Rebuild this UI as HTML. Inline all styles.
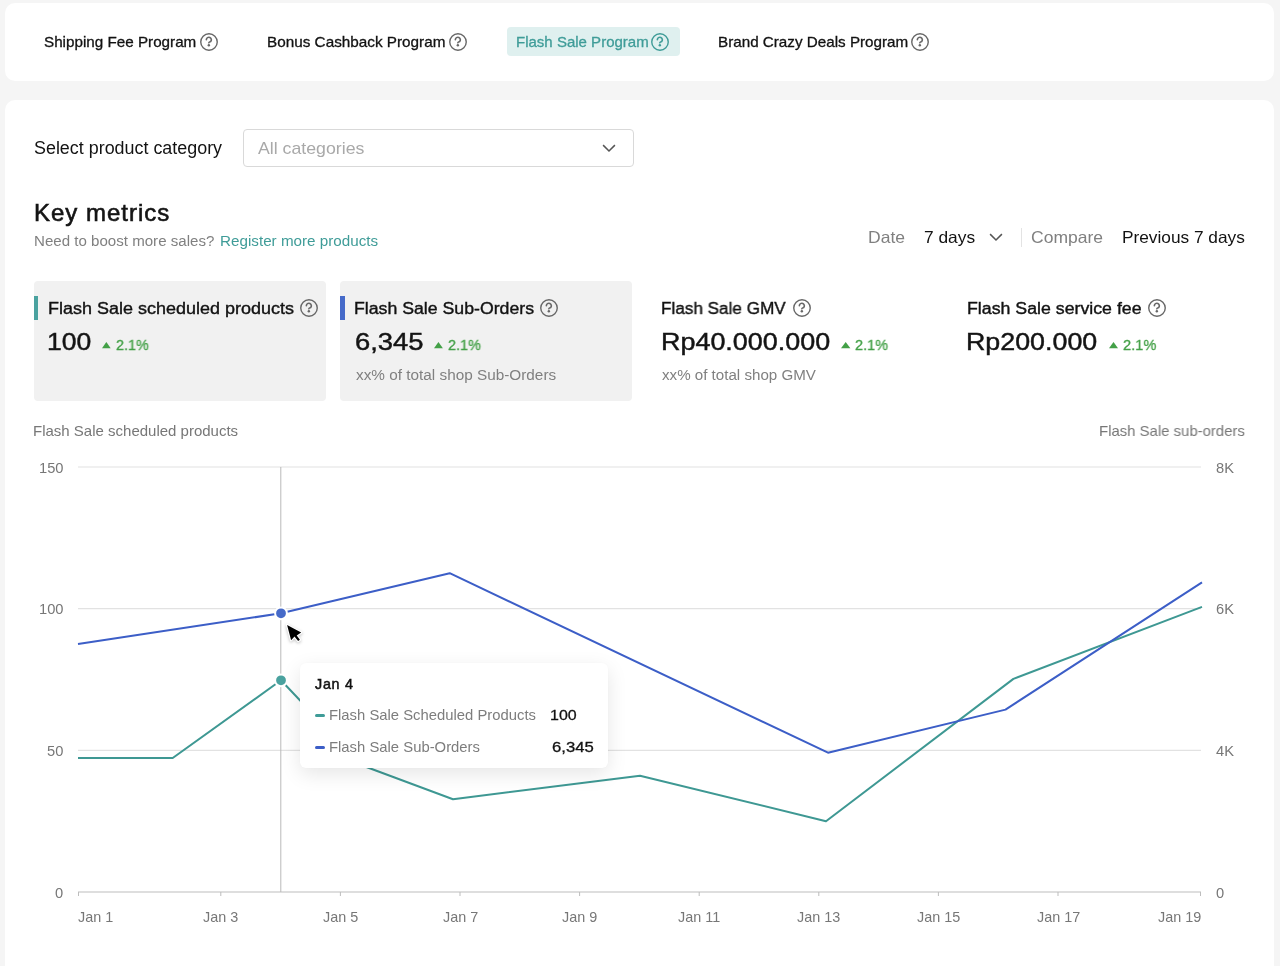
<!DOCTYPE html>
<html><head><meta charset="utf-8"><style>
html,body{margin:0;padding:0}
body{width:1280px;height:966px;overflow:hidden;background:#f5f5f5;position:relative;font-family:"Liberation Sans",Arial,sans-serif}
.card{position:absolute;background:#fff;border-radius:10px}
.t{position:absolute;white-space:nowrap;line-height:1;transform-origin:0 0;will-change:transform}
.ic{position:absolute;overflow:visible}
.mc{position:absolute;top:281px;height:119.5px;background:#f1f1f1;border-radius:4px}
.mc i{position:absolute;left:0;top:14.5px;width:4.3px;height:24.5px}
</style></head><body>
<div class="card" style="left:5px;top:2.5px;width:1269px;height:78px"></div>
<div class="card" style="left:5px;top:99.5px;width:1269px;height:900px"></div>
<div class="t" style="left:44.11px;top:35px;font-size:14.8px;color:#121212;-webkit-text-stroke:0.3px #121212;transform:scaleX(1.0285);">Shipping Fee Program</div>
<svg class="ic" style="left:199.60px;top:32.70px" width="18.00" height="18.00" viewBox="0 0 18 18"><circle cx="9" cy="9" r="8.25" fill="none" stroke="#686868" stroke-width="1.4"/><path d="M6.35 6.7A2.5 2.5 0 1 1 10.6 8.55Q8.85 9.25 8.85 9.85" fill="none" stroke="#686868" stroke-width="1.65" stroke-linecap="round"/><circle cx="8.85" cy="12.3" r="1.2" fill="#686868"/></svg>
<div class="t" style="left:266.95px;top:35px;font-size:14.8px;color:#121212;-webkit-text-stroke:0.3px #121212;transform:scaleX(1.0331);">Bonus Cashback Program</div>
<svg class="ic" style="left:448.50px;top:32.70px" width="18.00" height="18.00" viewBox="0 0 18 18"><circle cx="9" cy="9" r="8.25" fill="none" stroke="#686868" stroke-width="1.4"/><path d="M6.35 6.7A2.5 2.5 0 1 1 10.6 8.55Q8.85 9.25 8.85 9.85" fill="none" stroke="#686868" stroke-width="1.65" stroke-linecap="round"/><circle cx="8.85" cy="12.3" r="1.2" fill="#686868"/></svg>
<div style="position:absolute;left:506.5px;top:27px;width:173.5px;height:29px;background:#dff0ef;border-radius:4px"></div>
<div class="t" style="left:515.77px;top:35px;font-size:14.8px;color:#3f9c98;-webkit-text-stroke:0.3px #3f9c98;transform:scaleX(1.0148);">Flash Sale Program</div>
<svg class="ic" style="left:651.40px;top:32.70px" width="18.00" height="18.00" viewBox="0 0 18 18"><circle cx="9" cy="9" r="8.25" fill="none" stroke="#3f9c98" stroke-width="1.4"/><path d="M6.35 6.7A2.5 2.5 0 1 1 10.6 8.55Q8.85 9.25 8.85 9.85" fill="none" stroke="#3f9c98" stroke-width="1.65" stroke-linecap="round"/><circle cx="8.85" cy="12.3" r="1.2" fill="#3f9c98"/></svg>
<div class="t" style="left:718.15px;top:35px;font-size:14.8px;color:#121212;-webkit-text-stroke:0.3px #121212;transform:scaleX(1.0280);">Brand Crazy Deals Program</div>
<svg class="ic" style="left:911.30px;top:32.70px" width="18.00" height="18.00" viewBox="0 0 18 18"><circle cx="9" cy="9" r="8.25" fill="none" stroke="#686868" stroke-width="1.4"/><path d="M6.35 6.7A2.5 2.5 0 1 1 10.6 8.55Q8.85 9.25 8.85 9.85" fill="none" stroke="#686868" stroke-width="1.65" stroke-linecap="round"/><circle cx="8.85" cy="12.3" r="1.2" fill="#686868"/></svg>
<div class="t" style="left:33.89px;top:140px;font-size:17.5px;color:#121212;transform:scaleX(1.0228);">Select product category</div>
<div style="position:absolute;left:242.5px;top:128.5px;width:391px;height:38.5px;box-sizing:border-box;border:1px solid #d9d9d9;border-radius:4px;background:#fff"></div>
<div class="t" style="left:257.87px;top:140px;font-size:17.0px;color:#a9a9a9;transform:scaleX(1.0424);">All categories</div>
<svg class="ic" style="left:601.80px;top:142.80px" width="14" height="10" viewBox="0 0 14 10"><path d="M1.1 2.1l5.9 5.9 5.9-5.9" fill="none" stroke="#555" stroke-width="1.5"/></svg>
<div class="t" style="left:33.63px;top:201px;font-size:24.0px;color:#141414;-webkit-text-stroke:0.6px #141414;letter-spacing:0.998px;">Key metrics</div>
<div class="t" style="left:33.66px;top:234px;font-size:14.7px;color:#808080;transform:scaleX(1.0274);">Need to boost more sales?</div>
<div class="t" style="left:220.05px;top:234px;font-size:14.7px;color:#3f9c98;transform:scaleX(1.0361);">Register more products</div>
<div class="t" style="left:867.56px;top:229px;font-size:16.5px;color:#808080;transform:scaleX(1.0621);">Date</div>
<div class="t" style="left:924.41px;top:229px;font-size:16.5px;color:#121212;transform:scaleX(1.0515);">7 days</div>
<svg class="ic" style="left:989.00px;top:232.00px" width="14" height="10" viewBox="0 0 14 10"><path d="M1.1 2.1l5.9 5.9 5.9-5.9" fill="none" stroke="#555" stroke-width="1.5"/></svg>
<div style="position:absolute;left:1020.5px;top:227.5px;width:1px;height:19px;background:#e3e3e3"></div>
<div class="t" style="left:1030.71px;top:229px;font-size:16.5px;color:#808080;transform:scaleX(1.0620);">Compare</div>
<div class="t" style="left:1121.78px;top:229px;font-size:16.5px;color:#121212;transform:scaleX(1.0464);">Previous 7 days</div>
<div class="mc" style="left:34px;width:291.8px"><i style="background:#4aa29f"></i></div>
<div class="mc" style="left:340.3px;width:291.5px"><i style="background:#466ac9"></i></div>
<div class="t" style="left:48.02px;top:300px;font-size:17.3px;color:#121212;-webkit-text-stroke:0.4px #121212;transform:scaleX(1.0404);">Flash Sale scheduled products</div>
<svg class="ic" style="left:299.80px;top:298.80px" width="18.00" height="18.00" viewBox="0 0 18 18"><circle cx="9" cy="9" r="8.25" fill="none" stroke="#686868" stroke-width="1.4"/><path d="M6.35 6.7A2.5 2.5 0 1 1 10.6 8.55Q8.85 9.25 8.85 9.85" fill="none" stroke="#686868" stroke-width="1.65" stroke-linecap="round"/><circle cx="8.85" cy="12.3" r="1.2" fill="#686868"/></svg>
<div class="t" style="left:354.45px;top:300px;font-size:17.3px;color:#121212;-webkit-text-stroke:0.4px #121212;transform:scaleX(1.0241);">Flash Sale Sub-Orders</div>
<svg class="ic" style="left:540.20px;top:298.80px" width="18.00" height="18.00" viewBox="0 0 18 18"><circle cx="9" cy="9" r="8.25" fill="none" stroke="#686868" stroke-width="1.4"/><path d="M6.35 6.7A2.5 2.5 0 1 1 10.6 8.55Q8.85 9.25 8.85 9.85" fill="none" stroke="#686868" stroke-width="1.65" stroke-linecap="round"/><circle cx="8.85" cy="12.3" r="1.2" fill="#686868"/></svg>
<div class="t" style="left:660.79px;top:300px;font-size:17.3px;color:#121212;-webkit-text-stroke:0.4px #121212;transform:scaleX(0.9907);">Flash Sale GMV</div>
<svg class="ic" style="left:793.10px;top:298.80px" width="18.00" height="18.00" viewBox="0 0 18 18"><circle cx="9" cy="9" r="8.25" fill="none" stroke="#686868" stroke-width="1.4"/><path d="M6.35 6.7A2.5 2.5 0 1 1 10.6 8.55Q8.85 9.25 8.85 9.85" fill="none" stroke="#686868" stroke-width="1.65" stroke-linecap="round"/><circle cx="8.85" cy="12.3" r="1.2" fill="#686868"/></svg>
<div class="t" style="left:967.04px;top:300px;font-size:17.3px;color:#121212;-webkit-text-stroke:0.4px #121212;transform:scaleX(1.0267);">Flash Sale service fee</div>
<svg class="ic" style="left:1148.30px;top:298.80px" width="18.00" height="18.00" viewBox="0 0 18 18"><circle cx="9" cy="9" r="8.25" fill="none" stroke="#686868" stroke-width="1.4"/><path d="M6.35 6.7A2.5 2.5 0 1 1 10.6 8.55Q8.85 9.25 8.85 9.85" fill="none" stroke="#686868" stroke-width="1.65" stroke-linecap="round"/><circle cx="8.85" cy="12.3" r="1.2" fill="#686868"/></svg>
<div class="t" style="left:47.08px;top:330px;font-size:24px;color:#141414;-webkit-text-stroke:0.45px #141414;transform:scaleX(1.1052);">100</div>
<div class="t" style="left:354.61px;top:330px;font-size:24px;color:#141414;-webkit-text-stroke:0.45px #141414;transform:scaleX(1.1412);">6,345</div>
<div class="t" style="left:660.69px;top:330px;font-size:24px;color:#141414;-webkit-text-stroke:0.45px #141414;transform:scaleX(1.1218);">Rp40.000.000</div>
<div class="t" style="left:966.30px;top:330px;font-size:24px;color:#141414;-webkit-text-stroke:0.45px #141414;transform:scaleX(1.1176);">Rp200.000</div>
<svg class="ic" style="left:101.90px;top:342px" width="8.70" height="6.3" viewBox="0 0 10 7" preserveAspectRatio="none"><path d="M5 0L10 7H0z" fill="#43a047"/></svg>
<svg class="ic" style="left:433.70px;top:342px" width="8.90" height="6.3" viewBox="0 0 10 7" preserveAspectRatio="none"><path d="M5 0L10 7H0z" fill="#43a047"/></svg>
<svg class="ic" style="left:841.00px;top:342px" width="9.40" height="6.3" viewBox="0 0 10 7" preserveAspectRatio="none"><path d="M5 0L10 7H0z" fill="#43a047"/></svg>
<svg class="ic" style="left:1108.50px;top:342px" width="9.00" height="6.3" viewBox="0 0 10 7" preserveAspectRatio="none"><path d="M5 0L10 7H0z" fill="#43a047"/></svg>
<div class="t" style="left:116.08px;top:338px;font-size:14.7px;color:#43a047;-webkit-text-stroke:0.3px #43a047;transform:scaleX(0.9770);">2.1%</div>
<div class="t" style="left:447.78px;top:338px;font-size:14.7px;color:#43a047;-webkit-text-stroke:0.3px #43a047;transform:scaleX(0.9801);">2.1%</div>
<div class="t" style="left:855.47px;top:338px;font-size:14.7px;color:#43a047;-webkit-text-stroke:0.3px #43a047;transform:scaleX(0.9832);">2.1%</div>
<div class="t" style="left:1122.77px;top:338px;font-size:14.7px;color:#43a047;-webkit-text-stroke:0.3px #43a047;transform:scaleX(0.9925);">2.1%</div>
<div class="t" style="left:355.83px;top:368px;font-size:14.7px;color:#808080;transform:scaleX(1.0433);">xx% of total shop Sub-Orders</div>
<div class="t" style="left:662.03px;top:368px;font-size:14.7px;color:#808080;transform:scaleX(1.0303);">xx% of total shop GMV</div>
<div class="t" style="left:33.02px;top:423px;font-size:15.0px;color:#777777;">Flash Sale scheduled products</div>
<div class="t" style="left:1099.18px;top:423px;font-size:15.0px;color:#777777;transform:scaleX(0.9941);">Flash Sale sub-orders</div>
<svg class="ic" style="left:0;top:0" width="1280" height="966" viewBox="0 0 1280 966"><line x1="78" y1="467.0" x2="1201" y2="467.0" stroke="#e2e2e2" stroke-width="1.1"/><line x1="78" y1="608.67" x2="1201" y2="608.67" stroke="#e2e2e2" stroke-width="1.1"/><line x1="78" y1="750.33" x2="1201" y2="750.33" stroke="#e2e2e2" stroke-width="1.1"/><line x1="78" y1="892.0" x2="1201" y2="892.0" stroke="#bdbdbd" stroke-width="1"/><line x1="78.5" y1="892.0" x2="78.5" y2="896.0" stroke="#bdbdbd" stroke-width="1"/><line x1="220.8" y1="892.0" x2="220.8" y2="896.0" stroke="#bdbdbd" stroke-width="1"/><line x1="340.4" y1="892.0" x2="340.4" y2="896.0" stroke="#bdbdbd" stroke-width="1"/><line x1="460.0" y1="892.0" x2="460.0" y2="896.0" stroke="#bdbdbd" stroke-width="1"/><line x1="579.6" y1="892.0" x2="579.6" y2="896.0" stroke="#bdbdbd" stroke-width="1"/><line x1="699.2" y1="892.0" x2="699.2" y2="896.0" stroke="#bdbdbd" stroke-width="1"/><line x1="818.8" y1="892.0" x2="818.8" y2="896.0" stroke="#bdbdbd" stroke-width="1"/><line x1="938.4" y1="892.0" x2="938.4" y2="896.0" stroke="#bdbdbd" stroke-width="1"/><line x1="1058.0" y1="892.0" x2="1058.0" y2="896.0" stroke="#bdbdbd" stroke-width="1"/><line x1="1200.5" y1="892.0" x2="1200.5" y2="896.0" stroke="#bdbdbd" stroke-width="1"/><line x1="280.8" y1="467" x2="280.8" y2="892" stroke="#b9b9b9" stroke-width="1"/><polyline points="78,758.0 172.7,758.0 281.0,680.3 361.0,765.0 453.0,799.2 640.0,775.7 826.0,821.2 1013.4,678.9 1202.0,606.9" fill="none" stroke="#3e9893" stroke-width="2" stroke-linejoin="round"/><polyline points="78,644.0 281.0,613.3 449.7,573.2 828.0,752.7 1005.5,709.6 1202.0,582.4" fill="none" stroke="#3c5ec7" stroke-width="2" stroke-linejoin="round"/><circle cx="281.0" cy="613.3" r="5.9" fill="#466ac9" stroke="#fff" stroke-width="2"/><circle cx="281.0" cy="680.3" r="5.9" fill="#4aa29f" stroke="#fff" stroke-width="2"/></svg>
<div class="t" style="left:38.65px;top:461px;font-size:14.7px;color:#777777;">150</div>
<div class="t" style="left:38.65px;top:602px;font-size:14.7px;color:#777777;">100</div>
<div class="t" style="left:46.82px;top:744px;font-size:14.7px;color:#777777;">50</div>
<div class="t" style="left:55.00px;top:886px;font-size:14.7px;color:#777777;">0</div>
<div class="t" style="left:1215.66px;top:461px;font-size:14.7px;color:#777777;">8K</div>
<div class="t" style="left:1215.55px;top:602px;font-size:14.7px;color:#777777;">6K</div>
<div class="t" style="left:1215.96px;top:744px;font-size:14.7px;color:#777777;">4K</div>
<div class="t" style="left:1215.73px;top:886px;font-size:14.7px;color:#777777;">0</div>
<div class="t" style="left:77.98px;top:910px;font-size:14.4px;color:#777777;">Jan 1</div>
<div class="t" style="left:203.39px;top:910px;font-size:14.4px;color:#777777;">Jan 3</div>
<div class="t" style="left:322.98px;top:910px;font-size:14.4px;color:#777777;">Jan 5</div>
<div class="t" style="left:442.64px;top:910px;font-size:14.4px;color:#777777;">Jan 7</div>
<div class="t" style="left:562.22px;top:910px;font-size:14.4px;color:#777777;">Jan 9</div>
<div class="t" style="left:677.82px;top:910px;font-size:14.4px;color:#777777;">Jan 11</div>
<div class="t" style="left:797.39px;top:910px;font-size:14.4px;color:#777777;">Jan 13</div>
<div class="t" style="left:916.97px;top:910px;font-size:14.4px;color:#777777;">Jan 15</div>
<div class="t" style="left:1036.63px;top:910px;font-size:14.4px;color:#777777;">Jan 17</div>
<div class="t" style="left:1158.05px;top:910px;font-size:14.4px;color:#777777;">Jan 19</div>
<div style="position:absolute;left:300.3px;top:663.2px;width:307.6px;height:104.4px;background:#fff;border-radius:6px;box-shadow:0 6px 20px rgba(0,0,0,0.10),0 0 2px rgba(0,0,0,0.04)"></div>
<div class="t" style="left:314.78px;top:677px;font-size:14.3px;color:#121212;-webkit-text-stroke:0.5px #121212;letter-spacing:0.728px;">Jan 4</div>
<div style="position:absolute;left:315px;top:714px;width:10px;height:3px;border-radius:1.5px;background:#3f9c98"></div>
<div style="position:absolute;left:315px;top:745.5px;width:10px;height:3px;border-radius:1.5px;background:#3c5ec7"></div>
<div class="t" style="left:328.53px;top:708px;font-size:14.3px;color:#7d7d7d;transform:scaleX(1.0375);">Flash Sale Scheduled Products</div>
<div class="t" style="left:328.53px;top:740px;font-size:14.3px;color:#7d7d7d;transform:scaleX(1.0382);">Flash Sale Sub-Orders</div>
<div class="t" style="left:550.38px;top:707px;font-size:15.0px;color:#121212;-webkit-text-stroke:0.3px #121212;transform:scaleX(1.0645);">100</div>
<div class="t" style="left:551.65px;top:739px;font-size:15.0px;color:#121212;-webkit-text-stroke:0.3px #121212;transform:scaleX(1.1122);">6,345</div>
<svg class="ic" style="left:280px;top:618px" width="30" height="30" viewBox="0 0 30 30"><polygon points="7.1,7.0 11.1,22.2 14.5,18.5 18.1,23.0 19.9,21.8 16.7,17.6 21.2,14.5" fill="#fff" stroke="#fff" stroke-width="2.4" stroke-linejoin="round" style="filter:drop-shadow(0 1px 1.5px rgba(0,0,0,0.25))"/><polygon points="7.1,7.0 11.1,22.2 14.5,18.5 18.1,23.0 19.9,21.8 16.7,17.6 21.2,14.5" fill="#000"/></svg>
</body></html>
